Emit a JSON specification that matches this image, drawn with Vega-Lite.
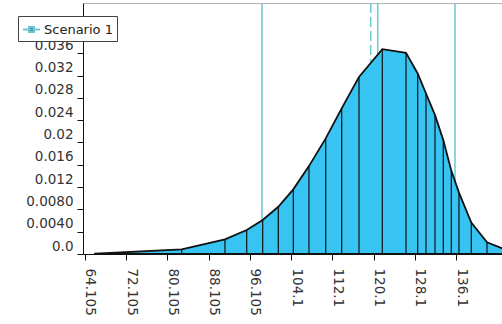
{
  "$schema": "https://vega.github.io/schema/vega-lite/v6.json",
  "width": 419,
  "height": 251,
  "autosize": "none",
  "padding": {"left": 83, "top": 3, "right": 0, "bottom": 70},
  "background": "white",
  "config": {"view": {"stroke": "#b4b4b4"}, "font": "DejaVu Sans"},
  "datasets": {
    "curve": [
      {"x": 66.05, "y": 0.00005, "v": 0},
      {"x": 82.87, "y": 0.00084, "v": 1},
      {"x": 91.27, "y": 0.00263, "v": 1},
      {"x": 95.49, "y": 0.0043, "v": 1},
      {"x": 98.59, "y": 0.00609, "v": 1},
      {"x": 101.62, "y": 0.00847, "v": 1},
      {"x": 104.53, "y": 0.01159, "v": 1},
      {"x": 107.57, "y": 0.01576, "v": 1},
      {"x": 110.82, "y": 0.02072, "v": 1},
      {"x": 113.92, "y": 0.0261, "v": 1},
      {"x": 117.28, "y": 0.03175, "v": 1},
      {"x": 121.8, "y": 0.03672, "v": 1},
      {"x": 126.4, "y": 0.03605, "v": 1},
      {"x": 128.67, "y": 0.03236, "v": 1},
      {"x": 130.28, "y": 0.02878, "v": 1},
      {"x": 132.03, "y": 0.02489, "v": 1},
      {"x": 133.64, "y": 0.02042, "v": 1},
      {"x": 135.19, "y": 0.01495, "v": 1},
      {"x": 136.68, "y": 0.01101, "v": 1},
      {"x": 139.07, "y": 0.00564, "v": 1},
      {"x": 142.12, "y": 0.00211, "v": 1},
      {"x": 147.0, "y": 0.0003, "v": 0}
    ],
    "markers": [
      {"x": 98.45, "style": "solid", "series": "Scenario 1"},
      {"x": 119.55, "style": "dashed", "series": "Scenario 1"},
      {"x": 120.91, "style": "solid", "series": "Scenario 1"},
      {"x": 135.91, "style": "solid", "series": "Scenario 1"}
    ]
  },
  "encoding": {
    "x": {
      "field": "x",
      "type": "quantitative",
      "scale": {"domain": [63.72, 145.03], "nice": false, "zero": false},
      "axis": {
        "title": null,
        "grid": false,
        "values": [64.105, 72.105, 80.105, 88.105, 96.105, 104.105, 112.105, 120.105, 128.105, 136.105],
        "labelExpr": "datum.value < 100 ? format(datum.value, '.3f') : format(datum.value, '.1f')",
        "labelAngle": 90,
        "labelFont": "DejaVu Sans",
        "labelFontSize": 13.5,
        "labelColor": "#333333",
        "tickColor": "#111111",
        "domainColor": "#111111",
        "tickSize": 6,
        "labelPadding": 8,
        "labelOffset": 5,
        "labelFlush": false,
        "labelOverlap": false
      }
    }
  },
  "layer": [
    {
      "data": {"name": "markers"},
      "mark": {"type": "rule", "strokeWidth": 1.5, "clip": true},
      "encoding": {
        "stroke": {
          "field": "series",
          "type": "nominal",
          "scale": {"range": ["#6cc8d2"]},
          "legend": {
            "title": null,
            "orient": "none",
            "legendX": -65,
            "legendY": 13,
            "fillColor": "white",
            "strokeColor": "#444444",
            "padding": 4,
            "cornerRadius": 0,
            "labelFont": "DejaVu Sans",
            "labelFontSize": 13,
            "labelColor": "#222222",
            "labelOffset": 3,
            "symbolType": "M-1,0H1M-0.3,-0.3H0.3V0.3H-0.3Z",
            "symbolSize": 289,
            "symbolStrokeWidth": 2,
            "symbolFillColor": "#1f3a7a"
          }
        },
        "strokeDash": {
          "field": "style",
          "type": "nominal",
          "scale": {"domain": ["solid", "dashed"], "range": [[1, 0], [10, 4]]},
          "legend": null
        }
      }
    },
    {
      "data": {"name": "curve"},
      "mark": {"type": "area", "fill": "#38c4f2", "stroke": "#111111", "strokeWidth": 1.8, "clip": true},
      "encoding": {
        "y": {
          "field": "y",
          "type": "quantitative",
          "scale": {"domain": [0, 0.045], "nice": false},
          "axis": {
            "title": null,
            "grid": false,
            "values": [0, 0.004, 0.008, 0.012, 0.016, 0.02, 0.024, 0.028, 0.032, 0.036, 0.04],
            "labelExpr": "datum.value == 0 ? '0.0' : (datum.value < 0.01 ? format(datum.value, '.4f') : format(datum.value, '.3~f'))",
            "labelFont": "DejaVu Sans",
            "labelFontSize": 13.5,
            "labelColor": "#333333",
            "tickColor": "#111111",
            "domainColor": "#111111",
            "tickSize": 6,
            "labelPadding": 4,
            "labelOffset": -8,
            "labelFlush": false,
            "labelOverlap": false,
            "labelBound": false
          }
        }
      }
    },
    {
      "data": {"name": "curve"},
      "transform": [{"filter": "datum.v == 1"}],
      "mark": {"type": "rule", "stroke": "#111111", "strokeWidth": 1.2},
      "encoding": {
        "y": {
          "field": "y",
          "type": "quantitative",
          "scale": {"domain": [0, 0.045], "nice": false},
          "axis": {
            "title": null,
            "grid": false,
            "values": [0, 0.004, 0.008, 0.012, 0.016, 0.02, 0.024, 0.028, 0.032, 0.036, 0.04],
            "labelExpr": "datum.value == 0 ? '0.0' : (datum.value < 0.01 ? format(datum.value, '.4f') : format(datum.value, '.3~f'))",
            "labelFont": "DejaVu Sans",
            "labelFontSize": 13.5,
            "labelColor": "#333333",
            "tickColor": "#111111",
            "domainColor": "#111111",
            "tickSize": 6,
            "labelPadding": 4,
            "labelOffset": -8,
            "labelFlush": false,
            "labelOverlap": false,
            "labelBound": false
          }
        },
        "y2": {"datum": 0}
      }
    }
  ]
}
